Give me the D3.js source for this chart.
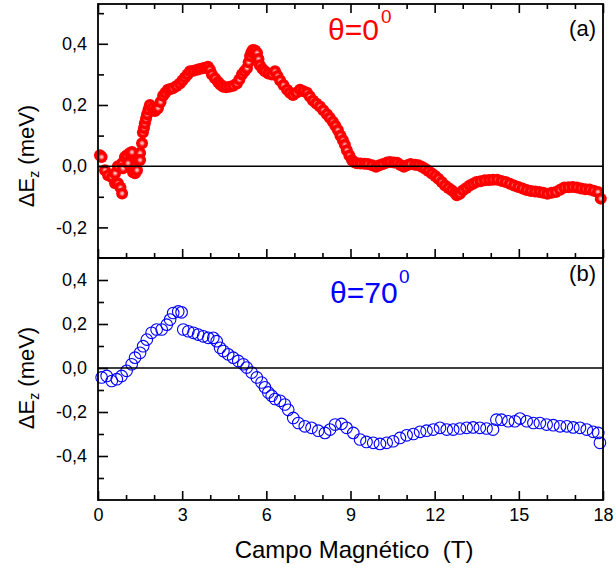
<!DOCTYPE html>
<html><head><meta charset="utf-8">
<script src="https://cdn.jsdelivr.net/npm/d3@7"></script>
<style>body{margin:0;background:#fff}text{font-family:"Liberation Sans",Arial,sans-serif}</style>
</head><body>
<svg id="c" width="616" height="569" xmlns="http://www.w3.org/2000/svg"></svg>
<script>
// ---- Data ----
const fieldA = [0.07,0.13,0.25,0.36,0.50,0.61,0.61,0.71,0.71,0.80,0.86,0.86,0.89,0.96,1.03,1.07,1.14,1.21,1.25,1.32,1.39,1.39,1.50,1.50,1.57,1.60,1.64,1.67,1.71,1.75,1.80,1.85,1.94,2.03,2.08,2.14,2.23,2.32,2.40,2.49,2.58,2.67,2.80,2.92,3.01,3.10,3.19,3.28,3.40,3.53,3.63,3.74,3.83,3.92,3.99,4.06,4.17,4.28,4.36,4.45,4.57,4.70,4.82,4.95,5.04,5.13,5.22,5.31,5.37,5.42,5.47,5.52,5.60,5.67,5.72,5.77,5.86,5.95,6.07,6.20,6.31,6.40,6.49,6.61,6.74,6.84,6.95,7.07,7.20,7.32,7.45,7.55,7.66,7.78,7.91,8.03,8.16,8.26,8.37,8.46,8.55,8.64,8.73,8.80,8.87,8.96,9.05,9.14,9.23,9.36,9.50,9.62,9.77,9.91,10.03,10.16,10.30,10.41,10.55,10.66,10.78,10.90,11.02,11.14,11.30,11.42,11.54,11.66,11.78,11.90,12.02,12.13,12.25,12.37,12.49,12.61,12.72,12.79,12.90,13.01,13.13,13.25,13.37,13.49,13.64,13.79,13.94,14.08,14.23,14.38,14.53,14.68,14.83,14.98,15.13,15.28,15.43,15.58,15.73,15.87,16.02,16.17,16.32,16.47,16.62,16.77,16.92,17.07,17.22,17.37,17.52,17.67,17.82,17.92];
const dEzA = [0.036,0.030,-0.013,-0.030,-0.036,-0.056,-0.023,0.000,-0.056,-0.070,-0.089,0.010,-0.007,0.030,0.036,0.010,0.043,0.046,-0.020,-0.023,0.020,-0.013,0.043,0.020,0.075,0.110,0.125,0.140,0.155,0.170,0.185,0.200,0.190,0.180,0.185,0.190,0.210,0.230,0.240,0.250,0.252,0.255,0.262,0.270,0.280,0.290,0.300,0.310,0.312,0.315,0.318,0.320,0.322,0.325,0.315,0.300,0.287,0.275,0.267,0.260,0.258,0.260,0.263,0.270,0.283,0.300,0.310,0.320,0.340,0.360,0.372,0.380,0.378,0.370,0.350,0.330,0.318,0.310,0.303,0.300,0.310,0.295,0.280,0.265,0.250,0.240,0.233,0.240,0.250,0.245,0.240,0.228,0.215,0.205,0.195,0.183,0.170,0.158,0.145,0.132,0.118,0.100,0.085,0.070,0.052,0.035,0.020,0.013,0.010,0.009,0.008,0.007,0.003,-0.002,0.003,0.007,0.012,0.014,0.012,0.011,0.004,-0.002,0.003,0.007,0.005,0.003,-0.002,-0.008,-0.016,-0.024,-0.032,-0.041,-0.052,-0.063,-0.071,-0.079,-0.087,-0.095,-0.090,-0.079,-0.071,-0.063,-0.057,-0.052,-0.049,-0.046,-0.045,-0.044,-0.044,-0.048,-0.052,-0.057,-0.063,-0.068,-0.073,-0.078,-0.081,-0.083,-0.084,-0.087,-0.090,-0.087,-0.084,-0.077,-0.070,-0.069,-0.068,-0.070,-0.073,-0.075,-0.076,-0.080,-0.084,-0.106];

const fieldB = [0.13,0.31,0.49,0.67,0.84,1.02,1.20,1.32,1.50,1.61,1.74,1.91,2.09,2.27,2.45,2.57,2.68,2.86,2.98,3.04,3.22,3.40,3.57,3.75,3.93,4.11,4.23,4.35,4.47,4.64,4.82,5.00,5.18,5.30,5.48,5.66,5.83,5.95,6.07,6.19,6.31,6.49,6.66,6.78,6.96,7.14,7.37,7.61,7.85,8.09,8.27,8.45,8.68,8.86,9.10,9.34,9.57,9.81,10.05,10.29,10.52,10.76,11.00,11.24,11.48,11.71,11.95,12.19,12.43,12.66,12.90,13.14,13.37,13.61,13.85,14.08,14.20,14.38,14.62,14.86,15.04,15.28,15.52,15.75,15.99,16.23,16.47,16.71,16.94,17.18,17.42,17.65,17.83,17.89];
const dEzB = [-0.043,-0.036,-0.059,-0.051,-0.036,-0.013,0.017,0.047,0.069,0.099,0.129,0.160,0.175,0.175,0.197,0.220,0.250,0.257,0.253,0.175,0.167,0.160,0.152,0.144,0.137,0.137,0.122,0.092,0.077,0.062,0.047,0.032,0.017,0.002,-0.021,-0.043,-0.066,-0.088,-0.111,-0.126,-0.141,-0.149,-0.166,-0.190,-0.227,-0.250,-0.265,-0.272,-0.285,-0.295,-0.280,-0.257,-0.254,-0.272,-0.295,-0.325,-0.336,-0.340,-0.345,-0.340,-0.333,-0.318,-0.306,-0.300,-0.290,-0.285,-0.280,-0.272,-0.280,-0.280,-0.275,-0.272,-0.270,-0.272,-0.275,-0.280,-0.235,-0.235,-0.242,-0.242,-0.230,-0.242,-0.250,-0.250,-0.257,-0.260,-0.265,-0.265,-0.270,-0.272,-0.280,-0.290,-0.295,-0.340];

const xTicks = [0,3,6,9,12,15,18];
const xMinor = [1,2,4,5,7,8,10,11,13,14,16,17];
const yTicksA = [-0.2,0,0.2,0.4];
const yMinorA = [-0.1,0.1,0.3,0.5];
const yTicksB = [-0.4,-0.2,0,0.2,0.4];
const yMinorB = [-0.5,-0.3,-0.1,0.1,0.3];

// ---- Chart ----
const svg = d3.select("#c");
const L = 98, R = 603, T = 4, M = 258, B = 500;
const x = d3.scaleLinear().domain([0,18]).range([L,R]);
const yA = d3.scaleLinear().domain([-0.3,0.53]).range([M,T]);
const yB = d3.scaleLinear().domain([-0.6,0.5]).range([B,M]);
const fmt = d => d3.format(".1f")(d).replace(".", ",").replace("\u2212", "-");

const defs = svg.append("defs");
const g = defs.append("radialGradient").attr("id","ball").attr("cx","50%").attr("cy","50%").attr("r","50%");
g.append("stop").attr("offset","0%").attr("stop-color","#ffe6e6");
g.append("stop").attr("offset","25%").attr("stop-color","#ff8080");
g.append("stop").attr("offset","50%").attr("stop-color","#ff0000");
g.append("stop").attr("offset","100%").attr("stop-color","#ff0000");

function styleAxis(sel){
  sel.select(".domain").remove();
  sel.selectAll("line").attr("stroke","#000").attr("stroke-width",1.6);
  sel.selectAll("text").attr("fill","#000").style("font-size","18px").style("font-family","Liberation Sans, Arial, sans-serif");
}

// Points panel A
const dataA = fieldA.map((t,i)=>[t,dEzA[i]]);
svg.append("g").selectAll("circle").data(dataA).join("circle")
  .attr("cx",d=>x(d[0])).attr("cy",d=>yA(d[1])).attr("r",6)
  .attr("fill","url(#ball)");

// Points panel B
const dataB = fieldB.map((t,i)=>[t,dEzB[i]]);
svg.append("g").selectAll("circle").data(dataB).join("circle")
  .attr("cx",d=>x(d[0])).attr("cy",d=>yB(d[1])).attr("r",5.8)
  .attr("fill","none").attr("stroke","#0000ff").attr("stroke-width",1.1);

// zero lines
svg.append("line").attr("x1",L).attr("x2",R).attr("y1",yA(0)).attr("y2",yA(0)).attr("stroke","#000").attr("stroke-width",1.6);
svg.append("line").attr("x1",L).attr("x2",R).attr("y1",yB(0)).attr("y2",yB(0)).attr("stroke","#000").attr("stroke-width",1.6);

// Y axes panel A
svg.append("g").attr("transform",`translate(${L},0)`)
  .call(d3.axisLeft(yA).tickValues(yTicksA).tickSize(-10).tickPadding(11).tickFormat(fmt)).call(styleAxis);
svg.append("g").attr("transform",`translate(${L},0)`)
  .call(d3.axisLeft(yA).tickValues(yMinorA).tickSize(-6).tickFormat("")).call(styleAxis);
// Y axes panel B
svg.append("g").attr("transform",`translate(${L},0)`)
  .call(d3.axisLeft(yB).tickValues(yTicksB).tickSize(-10).tickPadding(11).tickFormat(fmt)).call(styleAxis);
svg.append("g").attr("transform",`translate(${L},0)`)
  .call(d3.axisLeft(yB).tickValues(yMinorB).tickSize(-6).tickFormat("")).call(styleAxis);

// X ticks: top edge of panel A (pointing down)
svg.append("g").attr("transform",`translate(0,${T})`)
  .call(d3.axisTop(x).tickValues(xTicks).tickSize(-9).tickFormat("")).call(styleAxis);
svg.append("g").attr("transform",`translate(0,${T})`)
  .call(d3.axisTop(x).tickValues(xMinor).tickSize(-5).tickFormat("")).call(styleAxis);
// bottom edge of panel A (pointing up)
svg.append("g").attr("transform",`translate(0,${M})`)
  .call(d3.axisBottom(x).tickValues(xTicks).tickSize(-9).tickFormat("")).call(styleAxis);
svg.append("g").attr("transform",`translate(0,${M})`)
  .call(d3.axisBottom(x).tickValues(xMinor).tickSize(-5).tickFormat("")).call(styleAxis);
// bottom edge of panel B
svg.append("g").attr("transform",`translate(0,${B})`)
  .call(d3.axisBottom(x).tickValues(xTicks).tickSize(-9).tickPadding(8).tickFormat(d=>String(d))).call(styleAxis);
svg.append("g").attr("transform",`translate(0,${B})`)
  .call(d3.axisBottom(x).tickValues(xMinor).tickSize(-5).tickFormat("")).call(styleAxis);

// frames
svg.append("rect").attr("x",L).attr("y",T).attr("width",R-L).attr("height",M-T).attr("fill","none").attr("stroke","#000").attr("stroke-width",1.8);
svg.append("rect").attr("x",L).attr("y",M).attr("width",R-L).attr("height",B-M).attr("fill","none").attr("stroke","#000").attr("stroke-width",1.8);

// annotations
svg.append("text").attr("x",328).attr("y",40).attr("fill","#ff0000").style("font-size","30px").text("θ=0");
svg.append("text").attr("x",381).attr("y",23).attr("fill","#ff0000").style("font-size","19px").text("0");
svg.append("text").attr("x",330).attr("y",303).attr("fill","#0000ff").style("font-size","30px").text("θ=70");
svg.append("text").attr("x",399).attr("y",283).attr("fill","#0000ff").style("font-size","19px").text("0");
svg.append("text").attr("x",596).attr("y",36).attr("text-anchor","end").attr("fill","#000").style("font-size","22px").text("(a)");
svg.append("text").attr("x",596).attr("y",281).attr("text-anchor","end").attr("fill","#000").style("font-size","22px").text("(b)");

function yTitle(cy){
  const t = svg.append("text").attr("transform",`translate(34,${cy}) rotate(-90)`).attr("text-anchor","middle").attr("fill","#000").style("font-size","22px");
  t.append("tspan").text("ΔE");
  t.append("tspan").attr("dy",5).style("font-size","14px").text("z");
  t.append("tspan").attr("dy",-5).text(" (meV)");
}
yTitle(156);
yTitle(378);

svg.append("text").attr("x",354).attr("y",558).attr("text-anchor","middle").attr("fill","#000")
  .style("font-size","24px").style("white-space","pre").text("Campo Magnético  (T)");
</script>
</body></html>
